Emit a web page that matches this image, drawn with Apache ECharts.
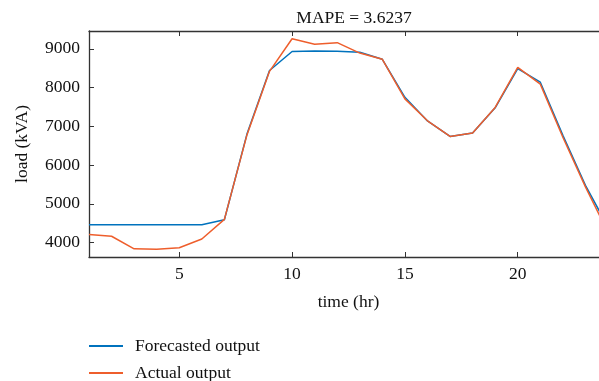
<!DOCTYPE html>
<html><head><meta charset="utf-8">
<script src="https://cdn.jsdelivr.net/npm/echarts@6/dist/echarts.min.js"></script>
<style>html,body{margin:0;padding:0;background:#fff}#c{width:599px;height:381px}</style>
</head><body><div id="c"></div>
<script>
const hours = [1,2,3,4,5,6,7,8,9,10,11,12,13,14,15,16,17,18,19,20,21,22,23,24];
const forecasted = [4460,4460,4460,4460,4460,4460,4590,6800,8440,8930,8945,8940,8910,8730,7750,7140,6740,6830,7480,8490,8140,6770,5480,4400];
const actual = [4210,4165,3840,3830,3870,4095,4600,6780,8420,9260,9120,9160,8890,8730,7710,7144,6740,6827,7487,8520,8090,6720,5440,4260];
const xTicks = [5,10,15,20];
const yTicks = [4000,5000,6000,7000,8000,9000];
const titleText = 'MAPE = 3.6237';
const F = 'Liberation Serif, DejaVu Serif, serif';
const FS = 17.5;
const axisCol = '#333';
const chart = echarts.init(document.getElementById('c'));
const legText = {fontFamily:F,fontSize:FS,color:'#111',padding:[0,0,0,7]};
chart.setOption({
  animation:false,
  title:{text:titleText,left:349,textAlign:'center',top:4,textStyle:{fontFamily:F,fontSize:FS,fontWeight:'normal',color:'#111'}},
  legend:[
    {left:84,top:332,itemWidth:34,itemHeight:2,icon:'rect',textStyle:legText,data:['Forecasted output']},
    {left:84,top:359,itemWidth:34,itemHeight:2,icon:'rect',textStyle:legText,data:['Actual output']}
  ],
  grid:{left:89,width:519,top:31,bottom:124,containLabel:false,outerBoundsMode:'none'},
  xAxis:[{type:'value',min:1,max:24,position:'bottom',
    name:'time (hr)',nameLocation:'middle',nameGap:36,nameTextStyle:{fontFamily:F,fontSize:FS,color:'#111'},
    axisLine:{show:true,onZero:false,lineStyle:{color:axisCol,width:1.3}},
    axisTick:{show:true,inside:true,length:5,customValues:xTicks,lineStyle:{color:axisCol}},
    axisLabel:{customValues:xTicks,fontFamily:F,fontSize:FS,color:'#111',margin:8},
    splitLine:{show:false}},
   {type:'value',min:1,max:24,position:'top',
    axisLine:{show:true,onZero:false,lineStyle:{color:axisCol,width:1.3}},
    axisTick:{show:true,inside:true,length:5,customValues:xTicks,lineStyle:{color:axisCol}},
    axisLabel:{show:false},splitLine:{show:false}}],
  yAxis:{type:'value',min:3630,max:9460,
    name:'load (kVA)',nameLocation:'middle',nameGap:58,nameRotate:90,nameTextStyle:{fontFamily:F,fontSize:FS,color:'#111'},
    axisLine:{show:true,onZero:false,lineStyle:{color:axisCol,width:1.3}},
    axisTick:{show:true,inside:true,length:5,customValues:yTicks,lineStyle:{color:axisCol}},
    axisLabel:{customValues:yTicks,formatter:v=>String(v),fontFamily:F,fontSize:FS,color:'#111',margin:9},
    splitLine:{show:false}},
  series:[
    {name:'Forecasted output',type:'line',showSymbol:false,symbol:'none',color:'#0072BD',lineStyle:{width:1.5},
     data:hours.map((h,i)=>[h,forecasted[i]])},
    {name:'Actual output',type:'line',showSymbol:false,symbol:'none',color:'#EE5E2C',lineStyle:{width:1.5},
     data:hours.map((h,i)=>[h,actual[i]])}
  ]
});
</script></body></html>
